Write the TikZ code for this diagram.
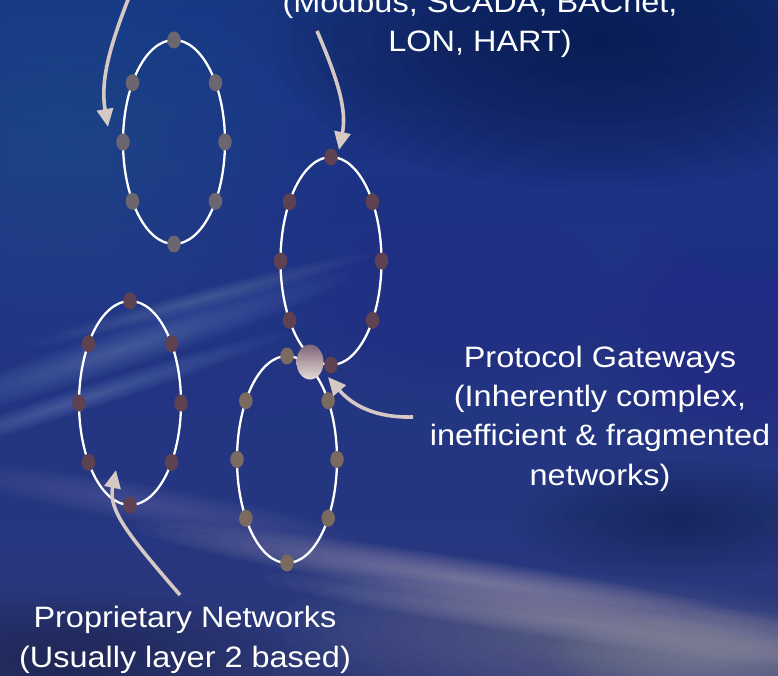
\documentclass[tikz,border=0pt]{standalone}
\usepackage{fontspec}
\setmainfont[FakeStretch=1.1]{Liberation Sans}
\usetikzlibrary{arrows.meta,shapes.geometric}

\definecolor{arrowgrey}{HTML}{D6C8C2}
\definecolor{dotgrey}{HTML}{6B6670}
\definecolor{dotplum}{HTML}{5E4252}
\definecolor{dotbrown}{HTML}{7B6A60}
\definecolor{gwtop}{HTML}{7E6478}
\definecolor{gwbottom}{HTML}{E8DCD8}

% sky gradient, bottom to top
\pgfdeclareverticalshading{sky}{100bp}{%
  color(0bp)=(rgb,255:red,70;green,68;blue,104);
  color(15bp)=(rgb,255:red,54;green,60;blue,108);
  color(35bp)=(rgb,255:red,38;green,54;blue,128);
  color(60bp)=(rgb,255:red,30;green,50;blue,132);
  color(85bp)=(rgb,255:red,18;green,56;blue,126);
  color(100bp)=(rgb,255:red,18;green,62;blue,128)}

% soft patch of colour: x, y, x radius, y radius, angle, hex colour, opacity per layer
\newcommand\skypatch[7]{%
  \definecolor{patchcol}{HTML}{#6}%
  \foreach \k in {1,...,16}{%
    \fill[patchcol, opacity=#7, rotate around={#5:(#1,#2)}]
      (#1,#2) ellipse ({#3pt*\k/16} and {#4pt*\k/16});}}

\tikzset{
  ring/.style={ellipse, draw=white, line width=2.3pt, inner sep=0pt, outer sep=0pt},
  netdot/.style={ellipse, inner sep=0pt, outer sep=0pt, minimum width=13.5pt, minimum height=17pt},
  gateway/.style={ellipse, inner sep=0pt, outer sep=0pt, minimum width=27pt, minimum height=35pt,
    top color=gwtop, bottom color=gwbottom},
  conn/.style={draw=arrowgrey, line width=3.6pt, -{Triangle[width=16pt,length=18pt]}},
  label/.style={text=white, align=center, font=\fontsize{29.5}{39.3}\selectfont, inner sep=0pt}
}

\begin{document}
\begin{tikzpicture}[x=1pt,y=-1pt]
\clip (0,0) rectangle (778,676);

% background sky
\shade[shading=sky] (0,0) rectangle (778,676);
\skypatch{60}{150}{280}{210}{0}{2A5E9C}{0.045}
\skypatch{600}{40}{330}{150}{0}{06123E}{0.05}
\skypatch{470}{300}{160}{90}{0}{30308C}{0.04}
\skypatch{740}{330}{150}{130}{0}{2F2C85}{0.04}
\skypatch{750}{220}{90}{60}{0}{1C4C8E}{0.035}
\skypatch{400}{470}{200}{80}{0}{4060A0}{0.025}
\skypatch{120}{350}{240}{20}{18}{A0B8E0}{0.025}
\skypatch{80}{400}{220}{12}{18}{A0B8E0}{0.025}
\skypatch{200}{300}{180}{10}{15}{A0B8E0}{0.02}
\skypatch{680}{520}{170}{60}{0}{142448}{0.04}
\skypatch{150}{505}{210}{20}{-10}{8A90B8}{0.025}
\skypatch{600}{645}{320}{70}{-4}{8A8898}{0.04}
\skypatch{470}{580}{340}{22}{-9}{C0B0C0}{0.045}
\skypatch{580}{622}{320}{20}{-8}{B0A8B8}{0.045}
\skypatch{720}{655}{170}{45}{0}{9A98A4}{0.05}
\skypatch{60}{660}{230}{70}{0}{221E44}{0.045}

% network rings
\node[ring, minimum width=102pt, minimum height=204pt] (r1) at (174,142) {};
\node[ring, minimum width=101pt, minimum height=208pt] (r2) at (331,261) {};
\node[ring, minimum width=102pt, minimum height=204pt] (r3) at (130,403) {};
\node[ring, minimum width=100pt, minimum height=207pt] (r4) at (287,459.5) {};

% devices on each ring
\foreach \r/\c in {r1/dotgrey, r2/dotplum, r3/dotplum, r4/dotbrown}
  \foreach \a in {0,55,90,125,180,235,270,305}
    \node[netdot, fill=\c] (\r-d\a) at (\r.\a) {};

% gateway joining two rings
\node[gateway] (gw) at (310,362) {};

% labels (base = baseline of the last line)
\node[label, anchor=base] (protocols) at (480,52) {(Modbus, SCADA, BACnet,\\LON, HART)};
\node[label, anchor=base] (gwtext) at (600,485) {Protocol Gateways\\(Inherently complex,\\inefficient \& fragmented\\networks)};
\node[label, anchor=base] (proptext) at (185,667) {Proprietary Networks\\(Usually layer 2 based)};

% arrows
\coordinate (a1s) at (131,-8);
\coordinate (a1e) at (108,127);
\coordinate (a2s) at (317,31);
\coordinate (a2e) at (339,150);
\coordinate (a3s) at (413,417);
\coordinate (a3e) at (328,377);
\coordinate (a4s) at (180,595);
\coordinate (a4e) at (116,470);
\draw[conn] (a1s) .. controls (110,45) and (100,80) .. (a1e);
\draw[conn] (a2s) .. controls (338,80) and (347,110) .. (a2e);
\draw[conn] (a3s) .. controls (375,418) and (352,405) .. (a3e);
\draw[conn] (a4s) .. controls (128,535) and (108,510) .. (a4e);
\end{tikzpicture}
\end{document}
